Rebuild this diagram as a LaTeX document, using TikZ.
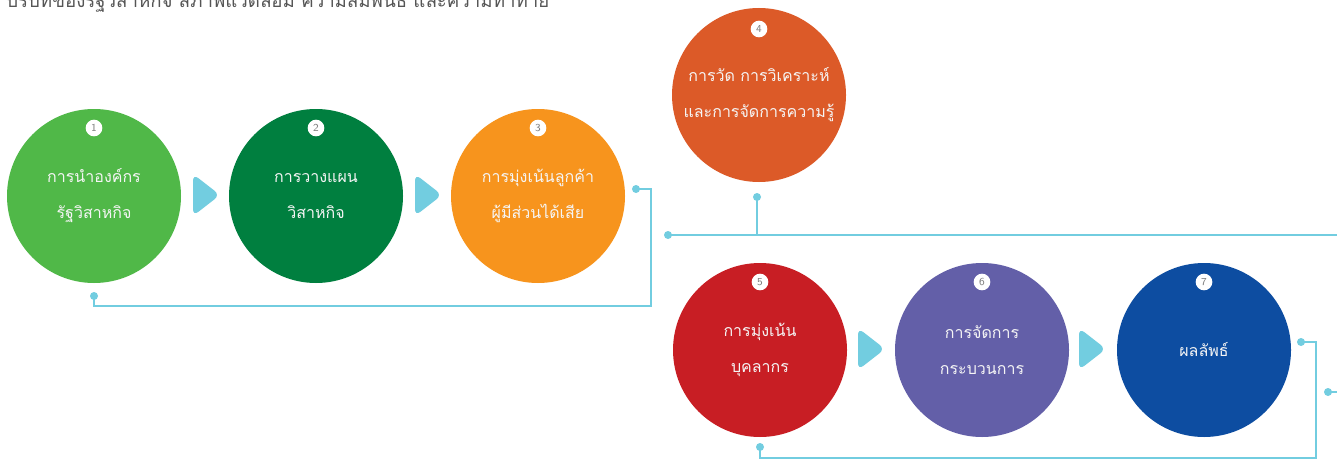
\documentclass[tikz,border=0pt]{standalone}
\usepackage{fontspec}
\newfontfamily\thai[Script=Thai]{Loma}
\usetikzlibrary{calc}
\definecolor{cOne}{HTML}{50B848}
\definecolor{cTwo}{HTML}{007F3F}
\definecolor{cThree}{HTML}{F7941D}
\definecolor{cFour}{HTML}{DC5A28}
\definecolor{cFive}{HTML}{C81E24}
\definecolor{cSix}{HTML}{635FA8}
\definecolor{cSeven}{HTML}{0D4DA1}
\definecolor{cLine}{HTML}{72CDE0}
\definecolor{cTitle}{HTML}{555555}
\tikzset{
  stepbox/.style={circle, minimum size=130.5pt, inner sep=0pt, text=white!92!gray,
    font=\thai\fontsize{12}{27}\selectfont, align=center},
  badge/.style={circle, fill=white, minimum size=12.5pt, inner sep=0pt,
    text=gray, font=\sffamily\fontsize{8}{8}\selectfont},
  conn/.style={draw=cLine, line width=1.5pt},
  dotfill/.style={fill=cLine},
  tri/.style={fill=cLine, rounded corners=5pt}
}
\begin{document}
\begin{tikzpicture}[x=0.75pt,y=-0.75pt]
\useasboundingbox (0,0) rectangle (1337,460);
\fill[white] (0,0) rectangle (1337,460);

% title (cut off at top, as in the reference)
\node[anchor=base west, inner sep=0pt, text=cTitle, font=\thai\fontsize{14}{14}\selectfont] (title) at (6,8) {บริบทของรัฐวิสาหกิจ สภาพแวดล้อม ความสัมพันธ์ และความท้าทาย};

% circles
\node[stepbox, fill=cOne] (s1) at (94,196) {การนำองค์กร\\รัฐวิสาหกิจ};
\node[stepbox, fill=cTwo] (s2) at (316,196) {การวางแผน\\วิสาหกิจ};
\node[stepbox, fill=cThree] (s3) at (538,196) {การมุ่งเน้นลูกค้า\\ผู้มีส่วนได้เสีย};
\node[stepbox, fill=cFour] (s4) at (759,95) {การวัด การวิเคราะห์\\และการจัดการความรู้};
\node[stepbox, fill=cFive] (s5) at (760,350) {การมุ่งเน้น\\บุคลากร};
\node[stepbox, fill=cSix] (s6) at (982,350) {การจัดการ\\กระบวนการ};
\node[stepbox, fill=cSeven] (s7) at (1204,350) {ผลลัพธ์};

% badges
\node[badge] (b1) at (94,128) {1};
\node[badge] (b2) at (316,128) {2};
\node[badge] (b3) at (538,128) {3};
\node[badge] (b4) at (759,29) {4};
\node[badge] (b5) at (760,282) {5};
\node[badge] (b6) at (982,282) {6};
\node[badge] (b7) at (1204,282) {7};

% triangles between circles
\foreach \cx/\cy in {205/195, 427/195, 870/349, 1091/349}{
  \fill[tri] (\cx-12,\cy-21) -- (\cx+15,\cy) -- (\cx-12,\cy+21) -- cycle;
}

% connectors
\coordinate (d3) at (636,189);
\coordinate (d1) at (94,296);
\draw[conn] (d3) -- ++(15,0) -- ++(0,117) -| (d1);
\fill[dotfill] (d3) circle (3pt);
\fill[dotfill] (d1) circle (3pt);

\coordinate (h0) at (668,235);
\coordinate (h1) at (1337,235);
\coordinate (d4) at (757,197);
\draw[conn] (h0) -- (h1);
\draw[conn] (d4) -- (d4 |- h0);
\fill[dotfill] (h0) circle (3pt);
\fill[dotfill] (d4) circle (3pt);

\coordinate (d7) at (1301,342);
\coordinate (d5) at (760,447);
\draw[conn] (d7) -- ++(15,0) -- ++(0,116) -| (d5);
\fill[dotfill] (d7) circle (3pt);
\fill[dotfill] (d5) circle (3pt);

\coordinate (dR) at (1328,392);
\coordinate (eR) at (1337,392);
\draw[conn] (dR) -- (eR);
\fill[dotfill] (dR) circle (3pt);
\end{tikzpicture}
\end{document}
